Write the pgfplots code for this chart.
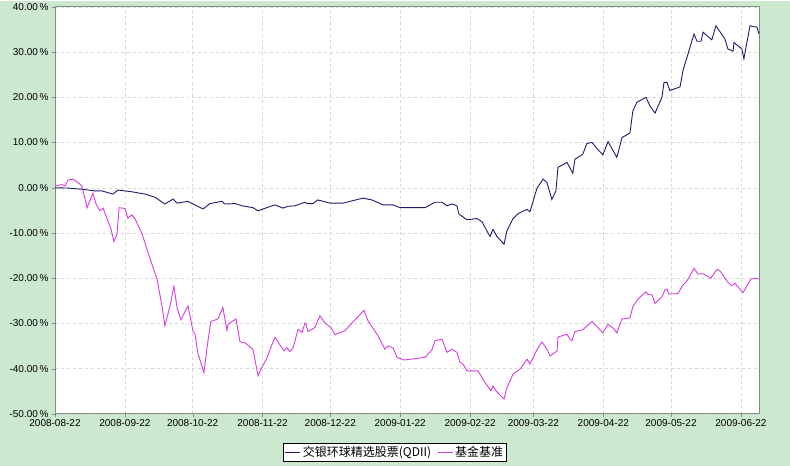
\documentclass[border=0pt]{standalone}
\usepackage{fontspec}
\setmainfont{Liberation Sans}
\newfontfamily\cjk{Noto Sans CJK SC}
\usepackage{pgfplots}
\pgfplotsset{compat=1.18}
\definecolor{bg}{RGB}{204,232,207}
\definecolor{fundc}{RGB}{30,28,110}
\definecolor{benchc}{RGB}{214,60,224}
\definecolor{gridc}{RGB}{215,215,215}
\definecolor{axc}{RGB}{128,140,128}
\begin{document}
\begin{tikzpicture}
\fill[bg] (0,0) rectangle (790bp,465bp);
\begin{axis}[
  at={(55bp,52bp)}, anchor=south west,
  scale only axis, width=704bp, height=407bp,
  xmin=0, xmax=312, ymin=-50, ymax=40,
  axis background/.style={fill=white},
  xtick={0,31,61,92,122,153,184,212,243,273,304},
  xticklabels={2008-08-22,2008-09-22,2008-10-22,2008-11-22,2008-12-22,2009-01-22,2009-02-22,2009-03-22,2009-04-22,2009-05-22,2009-06-22},
  ytick={-50,-40,...,40},
  yticklabel={\pgfmathprintnumber[fixed,fixed zerofill,precision=2]{\tick}\,\%},
  /pgf/number format/assume math mode=true,
  tick label style={font=\fontsize{10bp}{12bp}\selectfont},
  xticklabel style={yshift=1bp},
  grid=major,
  major grid style={gridc, dashed, line width=0.4pt},
  axis line style={axc, line width=0.8pt},
  tick pos=left, tick align=outside,
  major tick length=3bp,
  tick style={axc},
  legend style={at={(0.483,-0.0946)}, anchor=center, legend columns=2, draw=black, fill=white, font=\cjk\fontsize{12bp}{14bp}\selectfont, inner sep=1.5bp, /tikz/every even column/.append style={column sep=4bp}},
  legend image code/.code={\draw[#1] (0bp,0bp) -- (15bp,0bp);},
]
\addplot[fundc, line width=0.9pt] coordinates {
(0,0) (5.8,-0.07) (11.1,-0.3) (14.6,-0.5) (17.7,-0.7) (20.8,-0.7) (25.7,-1.4) (27.9,-0.5) (34.1,-0.9) (39.9,-1.4) (44.3,-2.1) (48.7,-3.6) (52.3,-2.5) (54.1,-3.4) (58.9,-3.0) (61.2,-3.6) (65.6,-4.7) (68.7,-3.5) (74.0,-3.0) (75.3,-3.6) (79.8,-3.5) (82.9,-4.0) (87.7,-4.4) (90.0,-5.1) (93.9,-4.4) (97.5,-3.8) (101.0,-4.5) (103.3,-4.1) (106.4,-4.0) (110.8,-3.2) (111.7,-3.5) (114.3,-3.5) (116.5,-2.7) (121.9,-3.4) (127.6,-3.4) (136.5,-2.3) (140.5,-2.7) (145.4,-3.8) (149.8,-3.8) (152.9,-4.4) (164.0,-4.4) (168.4,-3.2) (171.5,-3.2) (173.7,-4.0) (175.9,-3.6) (178.1,-4.0) (179.0,-5.8) (182.6,-7.1) (187.0,-6.8) (189.2,-7.5) (192.8,-10.8) (194.1,-9.2) (195.9,-10.8) (199.0,-12.5) (200.3,-9.5) (203.0,-6.8) (205.6,-5.6) (209.2,-4.8) (210.5,-5.3) (213.6,-0.1) (216.3,1.9) (218.0,1.2) (220.2,-2.6) (222.0,-0.7) (222.9,4.5) (226.9,5.6) (229.5,3.2) (230.4,6.3) (233.9,7.4) (235.7,9.8) (238.0,10.0) (240.6,8.4) (242.8,7.3) (245.1,10.2) (249.0,6.7) (251.3,11.1) (254.8,12.1) (256.1,17.0) (257.9,18.9) (261.9,20.0) (263.7,18.1) (265.9,16.5) (269.0,20.0) (269.9,23.3) (271.2,23.3) (272.5,21.5) (277.0,22.3) (278.3,25.9) (283.2,34.0) (284.5,32.4) (286.3,32.4) (287.2,34.4) (291.1,32.7) (292.9,35.8) (296.9,32.9) (298.2,30.7) (300.5,30.2) (300.9,32.1) (304.4,30.7) (305.3,28.5) (308.0,35.8) (311.1,35.5) (312,34.0)
};
\addlegendentry{交银环球精选股票(QDII)}
\addplot[benchc, line width=0.9pt] coordinates {
(0,0.4) (3.1,0.7) (4.4,0.4) (5.8,1.7) (8.0,1.9) (11.1,0.8) (12.0,0.2) (14.2,-4.4) (16.8,-1.2) (18.2,-3.6) (19.9,-5.1) (21.3,-4.5) (24.8,-9.1) (26.1,-11.9) (27.5,-10.2) (28.4,-4.4) (31.0,-4.6) (32.3,-6.7) (34.1,-6.0) (35.5,-6.9) (38.6,-10.2) (41.2,-14.3) (45.2,-20.2) (47.4,-26.1) (48.7,-30.5) (51.0,-26.1) (52.7,-21.8) (54.1,-26.5) (55.8,-29.2) (58.9,-26.1) (61.2,-31.8) (62.0,-32.3) (63.4,-36.7) (66.0,-40.9) (67.4,-35.3) (67.8,-33.8) (69.1,-29.6) (72.2,-29.0) (74.4,-26.5) (76.2,-31.5) (76.7,-30.2) (80.2,-29.0) (82.0,-34.1) (84.2,-34.3) (87.7,-35.7) (90.0,-41.6) (91.3,-40.1) (93.9,-37.7) (96.2,-34.6) (97.5,-33.1) (101.5,-36.1) (102.8,-35.4) (104.1,-36.2) (105.5,-35.5) (107.7,-31.3) (109.5,-32.0) (110.8,-29.9) (111.2,-30.1) (112.1,-31.8) (115.2,-30.9) (117.4,-28.3) (119.6,-29.9) (122.3,-30.9) (124.1,-32.5) (128.5,-31.6) (136.9,-27.1) (138.7,-29.4) (143.1,-32.7) (146.2,-35.7) (147.6,-35.0) (149.8,-35.4) (151.6,-37.5) (154.7,-38.1) (164.0,-37.5) (167.1,-35.8) (168.4,-33.8) (171.5,-33.5) (173.7,-36.4) (175.9,-35.7) (178.1,-36.4) (179.5,-38.6) (180.8,-39.0) (182.6,-40.5) (187.4,-40.5) (190.6,-43.1) (193.2,-44.9) (194.1,-43.8) (195.4,-44.9) (199.0,-46.7) (200.3,-44.2) (203.0,-41.2) (206.1,-40.1) (209.2,-37.9) (210.5,-39.0) (213.6,-35.8) (215.8,-34.1) (218.0,-35.7) (219.4,-37.2) (222.5,-36.1) (222.9,-33.0) (226.9,-32.4) (228.2,-33.5) (229.1,-33.8) (230.4,-31.8) (233.9,-31.4) (238.0,-29.6) (242.8,-32.1) (245.1,-30.2) (247.3,-31.0) (249.0,-32.1) (251.3,-29.0) (254.8,-28.8) (256.1,-26.3) (258.4,-24.6) (261.9,-23.0) (262.8,-23.6) (264.6,-23.7) (265.9,-25.6) (269.0,-24.1) (270.3,-22.6) (271.2,-22.4) (272.1,-23.5) (276.1,-23.4) (278.3,-21.5) (280.1,-20.6) (283.2,-17.8) (284.9,-19.1) (287.2,-19.0) (290.7,-20.0) (293.4,-18.0) (294.7,-18.4) (298.2,-20.9) (300.0,-21.7) (301.3,-21.1) (304.9,-23.2) (308.4,-20.2) (310.6,-20.0) (312,-20.2)
};
\addlegendentry{基金基准}
\end{axis}
\end{tikzpicture}
\end{document}
